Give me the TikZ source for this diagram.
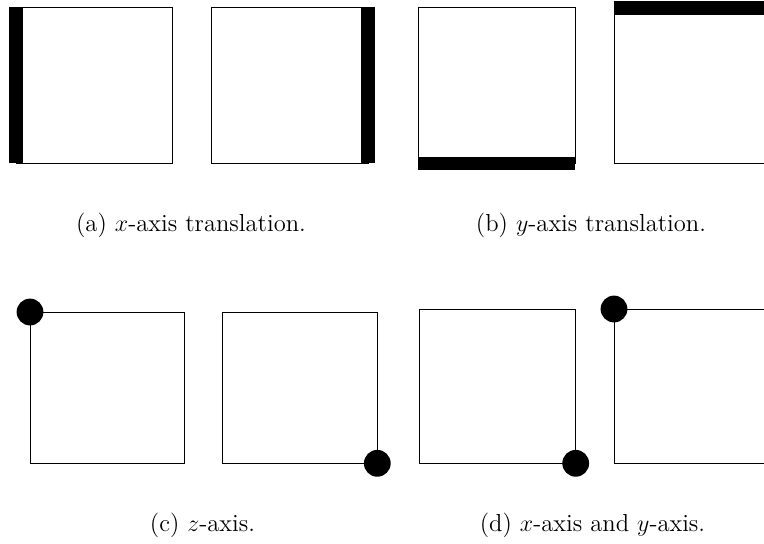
\documentclass[tikz,border=0pt]{standalone}
\begin{document}
\begin{tikzpicture}[x=0.5pt,y=-0.5pt,
  frame/.style={draw=black,line width=0.5pt},
  bar/.style={fill=black},
  dot/.style={fill=black},
  caption/.style={inner sep=0pt,anchor=base,font=\fontsize{12.3}{14}\selectfont}]
\useasboundingbox (0,0) rectangle (764,543);
\clip (0,0) rectangle (764,543);
% (a) x-axis translation
\draw[frame] (16,7.3) rectangle (172.7,163.3);
\fill[bar] (9,7.3) rectangle (22.7,163.3);
\draw[frame] (211.3,7.3) rectangle (368,163.3);
\fill[bar] (361,7.3) rectangle (375,163.3);
% (b) y-axis translation
\draw[frame] (418.3,7.3) rectangle (575,163.3);
\fill[bar] (418.3,156.7) rectangle (575,170);
\draw[frame] (614,8) rectangle (780,163.3);
\fill[bar] (614,1.3) rectangle (780,14.7);
% (c) z-axis
\draw[frame] (30,312) rectangle (184.3,463.3);
\fill[dot] (30,312) circle (13.4);
\draw[frame] (222.7,312) rectangle (377.3,463.3);
\fill[dot] (377.3,463.3) circle (13.4);
% (d) x-axis and y-axis
\draw[frame] (419,309) rectangle (575.7,463.3);
\fill[dot] (575.7,463.3) circle (13.4);
\draw[frame] (614,309) rectangle (780,463.3);
\fill[dot] (614,309) circle (13.4);
% captions
\node[caption] (capa) at (191,231) {(a) $x$-axis translation.};
\node[caption] (capb) at (591,231) {(b) $y$-axis translation.};
\node[caption] (capc) at (202.5,531) {(c) $z$-axis.};
\node[caption] (capd) at (592.5,531) {(d) $x$-axis and $y$-axis.};
\end{tikzpicture}
\end{document}
